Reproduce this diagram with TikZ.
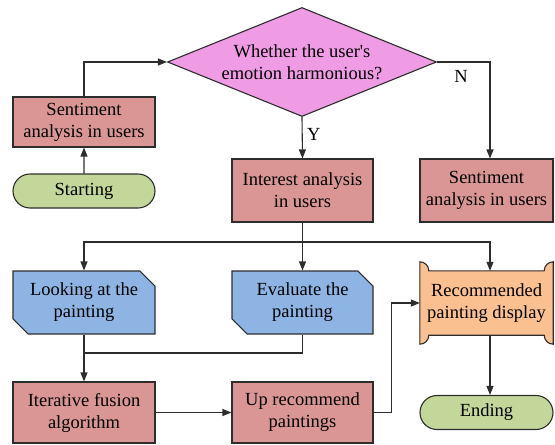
\documentclass[tikz,border=0pt]{standalone}
\usepackage{fontspec}
\setmainfont{Liberation Serif}
\usetikzlibrary{shapes.geometric,shapes.misc,arrows.meta}
\definecolor{boxred}{RGB}{217,150,148}
\definecolor{decpink}{RGB}{239,156,228}
\definecolor{termgreen}{RGB}{196,215,155}
\definecolor{iobue}{RGB}{141,180,227}
\definecolor{showorange}{RGB}{250,192,144}
\definecolor{edge}{RGB}{45,45,45}

\begin{document}
\begin{tikzpicture}[x=1pt,y=-1pt,
  every node/.style={font=\fontsize{18.5}{22}\selectfont,align=center,text=black},
  base/.style={draw=edge,line width=1.1pt,inner sep=0pt},
  procbox/.style={base,rectangle,fill=boxred,minimum width=141,minimum height=63},
  termbox/.style={base,rounded rectangle,fill=termgreen,minimum width=133,minimum height=34},
  iobox/.style={base,chamfered rectangle,chamfered rectangle corners={north east,south west},
    chamfered rectangle xsep=12pt,fill=iobue,minimum width=141,minimum height=63},
  decbox/.style={base,diamond,fill=decpink,minimum width=269,minimum height=109,aspect=2.5},
  arr/.style={draw=edge,line width=1.1pt,-{Triangle[length=9pt,width=7pt]}},
  ln/.style={draw=edge,line width=1.1pt}]
  \useasboundingbox (0,0) rectangle (555,445);
  % top row
  \node[decbox] (dec) at (302,62) {Whether the user\textquotesingle s\\emotion harmonious?};
  \node[procbox,minimum width=142,minimum height=50] (sentl) at (84,122) {Sentiment\\analysis in users};
  \node[termbox,minimum width=142] (start) at (84,191) {Starting};
  \node[procbox] (intr) at (302.5,190.5) {Interest analysis\\in users};
  \node[procbox,minimum width=133] (sentr) at (486.5,190.5) {Sentiment\\analysis in users};
  % middle row
  \node[iobox,minimum width=142] (look) at (84,302.5) {Looking at the\\painting};
  \node[iobox] (eval) at (302.5,302.5) {Evaluate the\\painting};
  \node[inner sep=0pt,minimum width=133,minimum height=64] (recd) at (486.5,303) {};
  \fill[showorange,draw=edge,line width=1.1pt]
    ([yshift=9]recd.north west) arc[start angle=270,end angle=360,radius=9]
    -- ([xshift=-9]recd.north east) arc[start angle=180,end angle=270,radius=9]
    -- ([yshift=-9]recd.south east) arc[start angle=90,end angle=180,radius=9]
    -- ([xshift=9]recd.south west) arc[start angle=0,end angle=90,radius=9] -- cycle;
  \node at (recd) {Recommended\\painting display};
  % bottom row
  \node[procbox,minimum width=142,minimum height=61] (iter) at (84,412.5) {Iterative fusion\\algorithm};
  \node[procbox,minimum height=61] (upr) at (302.5,412.5) {Up recommend\\paintings};
  \node[termbox] (endn) at (486.5,412.5) {Ending};
  % connectors
  \coordinate (split) at (302.5,242);
  \coordinate (merge) at (84,353);
  \draw[arr] (start) -- (sentl);
  \draw[arr] (sentl.north) |- (dec.west);
  \draw[arr] (dec.south) -- node[right,pos=0.42,xshift=1pt] {Y} (intr.north);
  \draw[arr] (dec.east) -| ([xshift=3.5]sentr.north);
  \node (nlab) at (461,76) {N};
  \draw[ln] (intr.south) -- (split);
  \draw[arr] (split) -| (look.north);
  \draw[arr] (split) -- (eval.north);
  \draw[arr] (split) -| ([xshift=3.5]recd.north);
  \draw[arr] (look.south) -- (iter.north);
  \draw[ln] (eval.south) |- (merge);
  \draw[arr] (iter) -- (upr);
  \draw[arr] (upr.east) -- ++(18,0) |- (recd.west);
  \draw[arr] ([xshift=3.5]recd.south) -- ([xshift=3.5]endn.north);
\end{tikzpicture}
\end{document}
